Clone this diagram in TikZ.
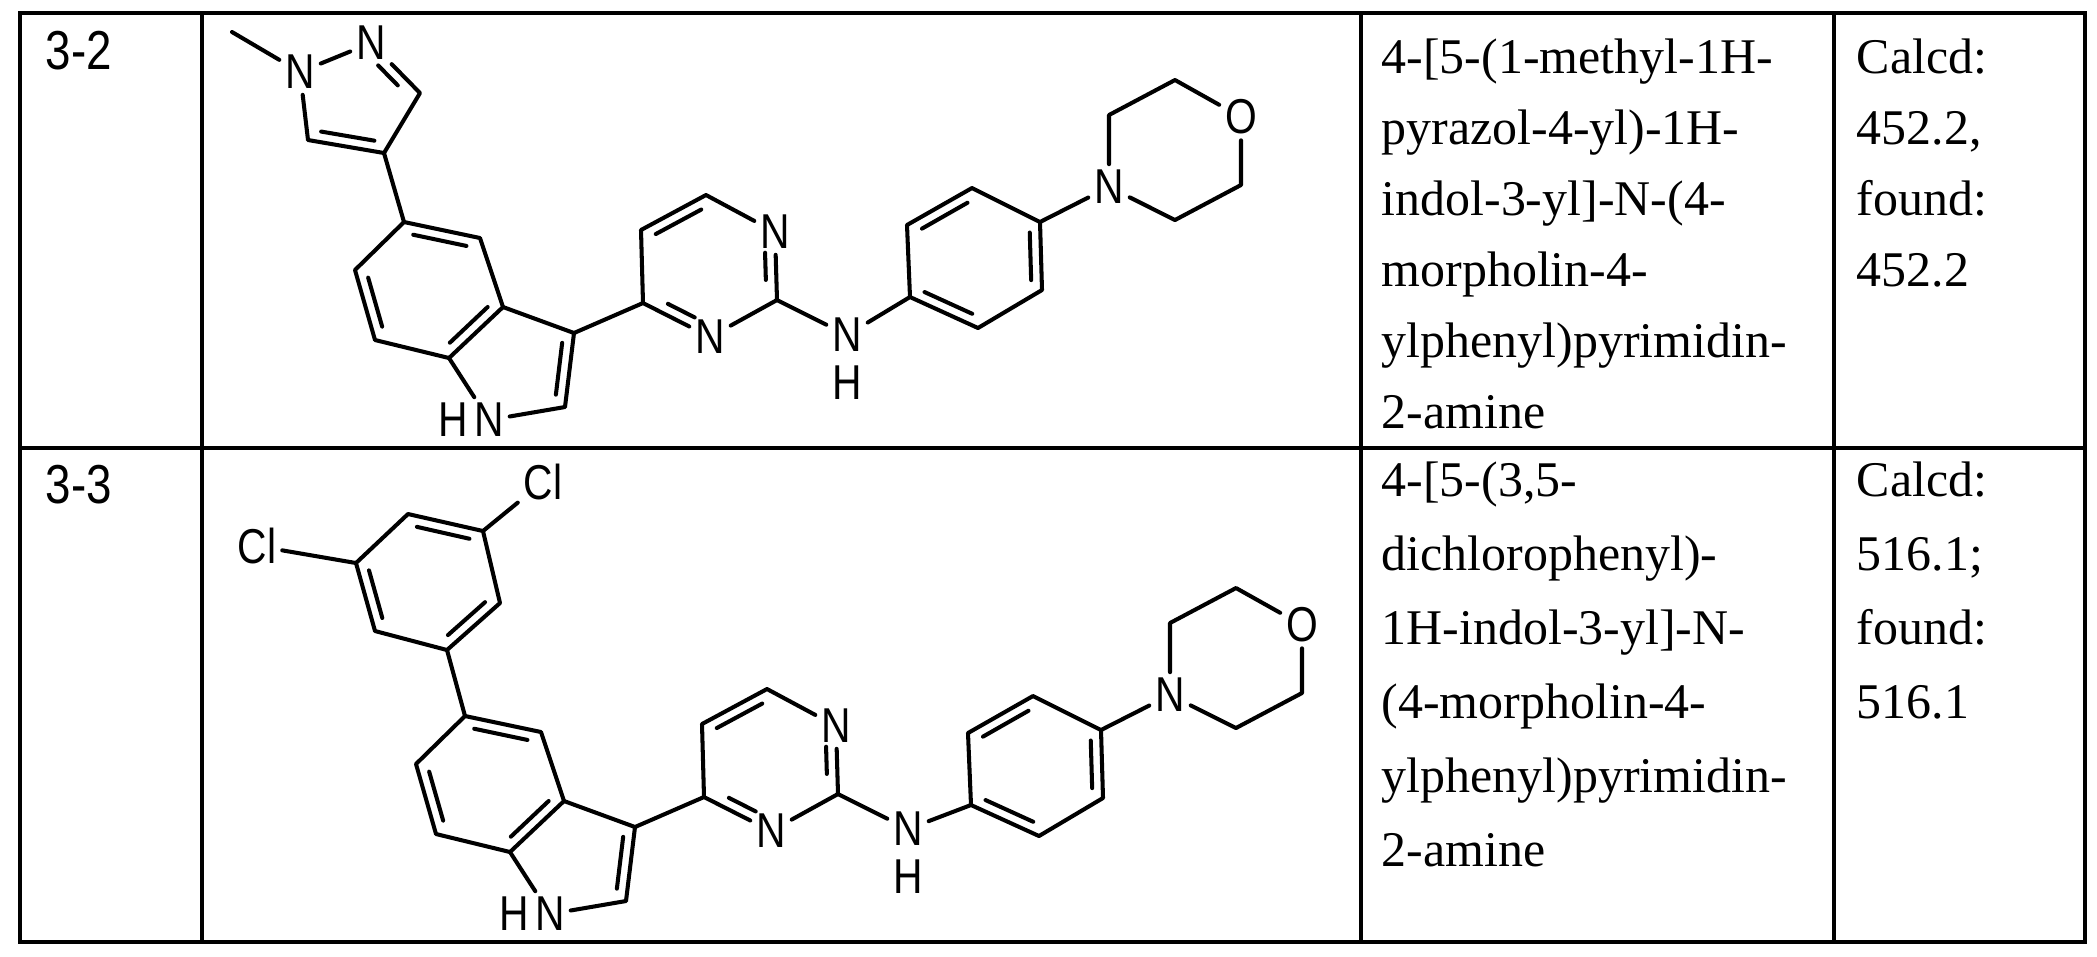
\documentclass[tikz,border=0pt]{standalone}
\usepackage{fontspec}
\usepackage{graphicx}
\setmainfont{Liberation Serif}
\newfontfamily\labfont{Liberation Sans}
\usetikzlibrary{calc}
\newcommand\tall[1]{\scalebox{1}[1.2]{#1}}
\newcommand\dbl[4][.15]{%
  \path ($(#2)!(#4)!(#3)$) coordinate (dF) ($(dF)!3pt!(#4)$) coordinate (dG);
  \draw[bond] ($(#2)!#1!(#3)+(dG)-(dF)$) -- ($(#2)!1-#1!(#3)+(dG)-(dF)$);}
\newcommand\molcore[2]{%
  \coordinate (#1c5) at (404,222); \coordinate (#1c4) at (480,238);
  \coordinate (#1c3a) at (503,307); \coordinate (#1c7a) at (449,358);
  \coordinate (#1c7) at (375,340); \coordinate (#1c6) at (355,270);
  \coordinate (#1c3) at (574,333); \coordinate (#1c2) at (565,407);
  \node[atom] (#1n1) at (489,420) {\tall{N}};
  \node[atom,anchor=east,inner xsep=0pt] (#1h1) at (#1n1.west) {\tall{H}};
  \coordinate (#1p4) at (643,303); \coordinate (#1p5) at (641,230);
  \coordinate (#1p6) at (706,195); \node[atom] (#1pn1) at (775,232) {\tall{N}};
  \coordinate (#1p2) at (777,300); \node[atom] (#1pn3) at (710,337) {\tall{N}};
  \node[atom] (#1nh) at (847,335) {\tall{N}};
  \node[atom,anchor=north,inner ysep=0pt] (#1hh) at ([yshift=-2pt]#1nh.south) {\tall{H}};
  \begin{scope}[yshift=-#2*0.01cm]
  \coordinate (#1a1) at (910,297); \coordinate (#1a2) at (978,328);
  \coordinate (#1a3) at (1042,290); \coordinate (#1a4) at (1040,222);
  \coordinate (#1a5) at (972,188); \coordinate (#1a6) at (907,225);
  \node[atom] (#1mn) at (1109,187) {\tall{N}}; \coordinate (#1m1) at (1109,115);
  \coordinate (#1m2) at (1175,80); \node[atom] (#1mo) at (1241,117) {\tall{O}};
  \coordinate (#1m3) at (1241,185); \coordinate (#1m4) at (1175,220);
  \coordinate (#1ph) at (975,258);
  \end{scope}
  \coordinate (#1bz) at (429,289); \coordinate (#1pr) at (518,364);
  \coordinate (#1py) at (709,266);
  \draw[bond] (#1c5)--(#1c4)--(#1c3a)--(#1c7a)--(#1c7)--(#1c6)--(#1c5);
  \draw[bond] (#1c3a)--(#1c3)--(#1c2)--(#1n1)--(#1c7a);
  \dbl{#1c5}{#1c4}{#1bz}\dbl{#1c3a}{#1c7a}{#1bz}\dbl{#1c7}{#1c6}{#1bz}
  \dbl{#1c3}{#1c2}{#1pr}
  \draw[bond] (#1c3)--(#1p4)--(#1p5)--(#1p6)--(#1pn1)--(#1p2)--(#1pn3)--(#1p4);
  \dbl{#1p5}{#1p6}{#1py}\dbl[.3]{#1pn1}{#1p2}{#1py}\dbl[.3]{#1pn3}{#1p4}{#1py}
  \draw[bond] (#1p2)--(#1nh)--(#1a1)--(#1a2)--(#1a3)--(#1a4)--(#1a5)--(#1a6)--(#1a1);
  \dbl{#1a1}{#1a2}{#1ph}\dbl{#1a3}{#1a4}{#1ph}\dbl{#1a5}{#1a6}{#1ph}
  \draw[bond] (#1a4)--(#1mn)--(#1m1)--(#1m2)--(#1mo)--(#1m3)--(#1m4)--(#1mn);
}
\begin{document}
\begin{tikzpicture}[x=0.01cm,y=-0.01cm,
  bond/.style={line width=1.15pt,line cap=round,line join=round},
  atom/.style={font=\labfont\fontsize{11.6}{12}\selectfont,inner sep=1.5pt},
  grid/.style={line width=1.2pt},
  txt/.style={anchor=base west,inner sep=0pt,font=\fontsize{14.2}{15}\selectfont},
  idl/.style={anchor=base west,inner sep=0pt,font=\labfont\fontsize{13}{13}\selectfont}]
\useasboundingbox (0,0) rectangle (2097,956);
% table
\draw[grid] (20,13) rectangle (2085,942);
\draw[grid] (20,448) -- (2085,448);
\draw[grid] (202,13) -- (202,942);
\draw[grid] (1361,13) -- (1361,942);
\draw[grid] (1834,13) -- (1834,942);
\node[idl] (id1) at (45,69) {\tall{3-2}};
\node[idl] (id2) at (45,503) {\tall{3-3}};
% row 1 text
\foreach \t [count=\i from 0] in {4-[5-(1-methyl-1H-,pyrazol-4-yl)-1H-,indol-3-yl]-N-(4-,morpholin-4-,ylphenyl)pyrimidin-,2-amine}
  \node[txt] (na\i) at (1381,73+71*\i) {\t};
\foreach \t [count=\i from 0] in {Calcd:,{452.2,},found:,452.2}
  \node[txt] (ca\i) at (1856,73+71*\i) {\t};
% row 2 text
\foreach \t [count=\i from 0] in {{4-[5-(3,5-},dichlorophenyl)-,1H-indol-3-yl]-N-,{(4-morpholin-4-},ylphenyl)pyrimidin-,2-amine}
  \node[txt] (nb\i) at (1381,496+74*\i) {\t};
\foreach \t [count=\i from 0] in {Calcd:,516.1;,found:,516.1}
  \node[txt] (cb\i) at (1856,496+74*\i) {\t};
% row 1 molecule
\molcore{r}{0}
\coordinate (rme) at (232,32);
\node[atom] (rz1) at (300,72) {\tall{N}}; \node[atom] (rz2) at (371,43) {\tall{N}};
\coordinate (rz3) at (420,93); \coordinate (rz4) at (384,153); \coordinate (rz5) at (308,140);
\coordinate (rzc) at (357,100);
\draw[bond] (rme)--(rz1)--(rz2)--(rz3)--(rz4)--(rz5)--(rz1);
\dbl[.3]{rz2}{rz3}{rzc}\dbl{rz4}{rz5}{rzc}
\draw[bond] (rz4)--(rc5);
% row 2 molecule
\begin{scope}[shift={(61,494)}]
\molcore{s}{14}
\coordinate (sb1) at (386,156); \coordinate (sb2) at (314,137);
\coordinate (sb3) at (295,69); \coordinate (sb4) at (347,20);
\coordinate (sb5) at (422,37); \coordinate (sb6) at (439,109);
\coordinate (sbc) at (367,88);
\node[atom] (scl1) at (196,52) {\tall{Cl}}; \node[atom] (scl2) at (482,-12) {\tall{Cl}};
\draw[bond] (sb1)--(sb2)--(sb3)--(sb4)--(sb5)--(sb6)--(sb1);
\dbl{sb2}{sb3}{sbc}\dbl{sb4}{sb5}{sbc}\dbl{sb6}{sb1}{sbc}
\draw[bond] (sb3)--(scl1); \draw[bond] (sb5)--(scl2); \draw[bond] (sb1)--(sc5);
\end{scope}
\end{tikzpicture}
\end{document}
